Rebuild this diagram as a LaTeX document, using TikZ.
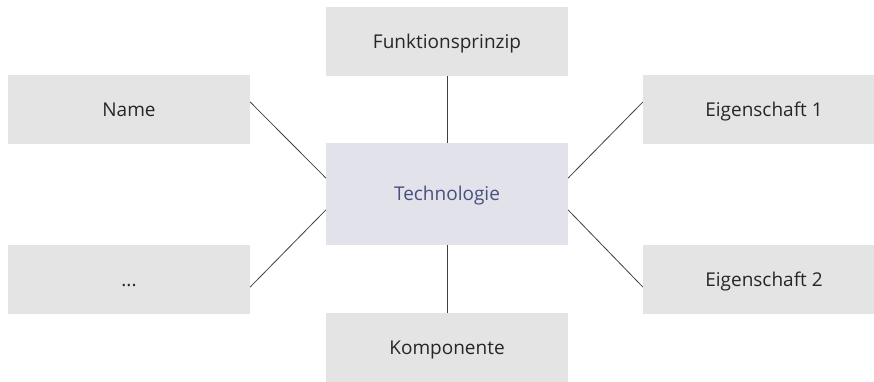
\documentclass[tikz,border=0pt]{standalone}
\usepackage{fontspec}
\setmainfont{Open Sans}
\definecolor{boxgray}{HTML}{E4E4E4}
\definecolor{techgray}{HTML}{E2E3EA}
\definecolor{techblue}{HTML}{4B4F80}
\definecolor{linegray}{HTML}{404040}
\begin{document}
\begin{tikzpicture}[
        x=1pt, y=1pt, font=\fontsize{19}{22}\selectfont,
        item/.style={rectangle, fill=boxgray, text=black!85, minimum width=242pt, minimum height=69pt,
            inner sep=0pt, text height=13.6pt, text depth=0pt},
        center/.style={item, fill=techgray, text=techblue, minimum height=102pt},
        link/.style={draw=linegray, line width=0.8pt}
    ]
        \useasboundingbox (0,0) rectangle (874,381);
        \clip (0,0) rectangle (874,381);

        \node[center] (tech) at (447,187) {Technologie};

        \node[item] (funk) at (447,339.5) {Funktionsprinzip};
        \node[item] (komp) at (447,33.5) {Komponente};
        \node[item] (name) at (129,271.5) {Name};
        \node[item] (more) at (129,101.5) {...};
        \node[item] (eig1) at (764,271.5) {Eigenschaft 1};
        \node[item] (eig2) at (764,101.5) {Eigenschaft 2};

        \draw[link] (funk) -- (tech);
        \draw[link] (tech) -- (komp);
        \draw[link] ([yshift=7.5pt]name.east) -- ([yshift=16pt]tech.west);
        \draw[link] ([yshift=-7.5pt]more.east) -- ([yshift=-16pt]tech.west);
        \draw[link] ([yshift=7.5pt]eig1.west) -- ([yshift=16pt]tech.east);
        \draw[link] ([yshift=-7.5pt]eig2.west) -- ([yshift=-16pt]tech.east);
    \end{tikzpicture}
\end{document}
